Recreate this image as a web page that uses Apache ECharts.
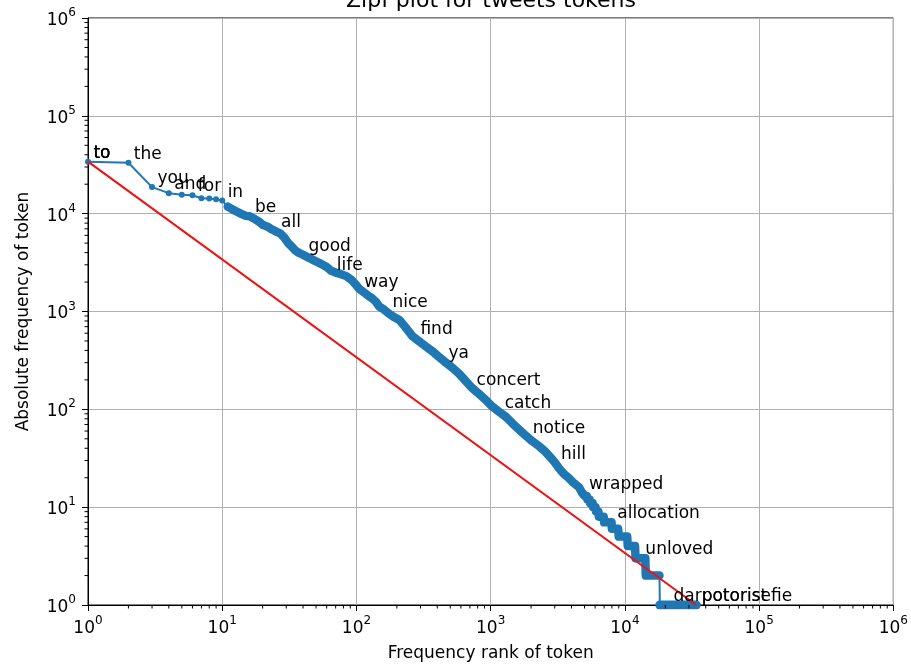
<!DOCTYPE html>
<html><head><meta charset="utf-8">
<script src="https://cdn.jsdelivr.net/npm/echarts@6/dist/echarts.min.js"></script>
<style>html,body{margin:0;padding:0;background:#fff}#c{width:911px;height:668px}</style>
</head><body><div id="c"></div>
<script>
// ---- data ----
const blueRanks = [1,2,3,4,5,6,7,8,9,10,11,12,13,14,15,16,17,18,19,20,21,22,23,24,25,27,29,31,33,35,37,40,43,46,50,55,60,65,70,76,84,92,100,105,115,125,132,140,148,160,175,190,209,230,261,290,330,370,410,464,520,583,650,728,800,900,1026,1150,1297,1450,1630,1850,2050,2293,2550,2866,3043,3230,3500,3800,4100,4550,4800,4950,5000,5200,5250,5450,5500,5750,5800,6050,6100,6350,6400,6700,6950,7000,7500,7950,8000,8500,8900,9000,9700,10400,10500,11200,11900,12000,12700,13500,14200,14300,15200,16200,17200,18100,18200,19500,21000,23000,25000,27000,29500,32000,34000];
const blueFreqs = [34000,33200,18700,16200,15600,15400,14400,14300,14000,13600,11800,11000,10400,9900,9500,9400,9000,8600,8200,7700,7500,7300,7000,6800,6600,6300,5700,5000,4600,4200,4000,3800,3600,3450,3250,3050,2850,2600,2500,2420,2300,2100,1850,1700,1550,1420,1350,1250,1120,1050,950,880,820,700,560,500,437,390,345,300,265,230,195,165,148,128,107,95,84,72,62,53,47,42,37,31,28,25,22,20,18,16,14,14,13,13,12,12,11,11,10,10,9,9,8,8,8,7,7,7,6,6,6,5,5,5,4,4,4,3,3,3,3,2,2,2,2,2,1,1,1,1,1,1,1,1,1];
const redRanks = [1, 34000];
const redFreqs = [34000, 1];
const labelRanks = [1,1,1,2,3,4,6,10,16,25,40,65,104,169,273,442,715,1159,1878,3043,4933,7991,12947,20981,33999];
const labelFreqs = [34000,34000,34000,33200,18700,16200,15400,13600,9400,6600,3800,2400,1600,1000,540,305,160,94,52,28,14,7,3,1,1];
const labelTokens = ['to','to','to','the','you','and','for','in','be','all','good','life','way','nice','find','ya','concert','catch','notice','hill','wrapped','allocation','unloved','darpotorist','potorisefie'];
const tickExps = [0,1,2,3,4,5,6];

const FONT = 'DejaVu Sans';
const BLUE = '#1f77b4';
const blueData = blueRanks.map((r, i) => [r, blueFreqs[i]]);
const bandA = blueData.filter(p => p[0] >= 11 && p[1] >= 2);
const bandB = blueData.filter(p => p[1] === 1);
const redData = redRanks.map((r, i) => [r, redFreqs[i]]);
const labelData = labelRanks.map((r, i) => ({ value: [r, labelFreqs[i]], name: labelTokens[i] }));

const minX = Math.pow(10, tickExps[0]), maxX = Math.pow(10, tickExps[tickExps.length - 1]);
const minorVals = [];
for (let e = tickExps[0]; e < tickExps[tickExps.length - 1]; e++)
  for (let k = 2; k <= 9; k++) minorVals.push(k * Math.pow(10, e));

const tickFmt = v => {
  const e = Math.round(Math.log10(v));
  return '{b|10}{s|' + e + '}';
};
const tickRich = {
  b: { fontFamily: FONT, fontSize: 17, color: '#000', lineHeight: 22, verticalAlign: 'bottom' },
  s: { fontFamily: FONT, fontSize: 12, color: '#000', lineHeight: 12, verticalAlign: 'top' }
};

function axisCommon(name, gap) {
  return {
    type: 'log', logBase: 10, min: minX, max: maxX, splitNumber: 6,
    axisLine: { show: true, lineStyle: { color: '#000', width: 1 } },
    axisTick: { show: true, length: 6, lineStyle: { color: '#000', width: 1 } },
    minorTick: { show: false },
    splitLine: { show: true, lineStyle: { color: '#b0b0b0', width: 1 } },
    axisLabel: { formatter: tickFmt, rich: tickRich, color: '#000' },
    name: name, nameLocation: 'middle', nameGap: gap,
    nameTextStyle: { fontFamily: FONT, fontSize: 17, color: '#000' }
  };
}

const xAx = axisCommon('Frequency rank of token', 40);
xAx.axisLabel.margin = 10;
const yAx = axisCommon('Absolute frequency of token', 56);
yAx.axisLabel.margin = 12;

const chart = echarts.init(document.getElementById('c'), null, { renderer: 'canvas' });
chart.setOption({
  animation: false,
  backgroundColor: '#fff',
  grid: { left: 88, right: 16, top: 18, bottom: 63, show: true, borderColor: '#000', borderWidth: 1, backgroundColor: 'transparent' },
  graphic: [{
    type: 'text', x: 491, y: 12, z: 100,
    style: { text: 'Zipf plot for tweets tokens', fontFamily: FONT, fontSize: 22, fill: '#000', align: 'center', verticalAlign: 'bottom' }
  }],
  xAxis: xAx,
  yAxis: yAx,
  series: [
    { type: 'line', data: bandA, symbol: 'none', lineStyle: { color: BLUE, width: 8.5, cap: 'round', join: 'round' }, z: 2, silent: true },
    { type: 'line', data: bandB, symbol: 'none', lineStyle: { color: BLUE, width: 9, cap: 'round', join: 'round' }, z: 2, silent: true },
    { type: 'line', data: blueData, symbol: 'circle', symbolSize: 6, showAllSymbol: true,
      itemStyle: { color: BLUE }, lineStyle: { color: BLUE, width: 2 }, z: 3, silent: true },
    { type: 'line', data: redData, symbol: 'none', lineStyle: { color: '#f01010', width: 2 }, z: 4, silent: true },
    { type: 'scatter', data: labelData, symbolSize: 0, z: 5, silent: true,
      itemStyle: { opacity: 1 },
      label: { show: true, position: [0, 0], align: 'left', verticalAlign: 'bottom', opacity: 1,
        formatter: p => ' ' + p.name, fontFamily: FONT, fontSize: 17, color: '#000' } },
    { type: 'custom', data: minorVals.map(v => [v, 1]), z: 6, silent: true, clip: false,
      renderItem: (params, api) => {
        const px = api.coord([api.value(0), 1]);
        const py = api.coord([1, api.value(0)]);
        return { type: 'group', children: [
          { type: 'line', shape: { x1: px[0], y1: px[1], x2: px[0], y2: px[1] + 3.5 }, style: { stroke: '#000', lineWidth: 1 } },
          { type: 'line', shape: { x1: py[0] - 3.5, y1: py[1], x2: py[0], y2: py[1] }, style: { stroke: '#000', lineWidth: 1 } }
        ] };
      } }
  ]
});
</script></body></html>
